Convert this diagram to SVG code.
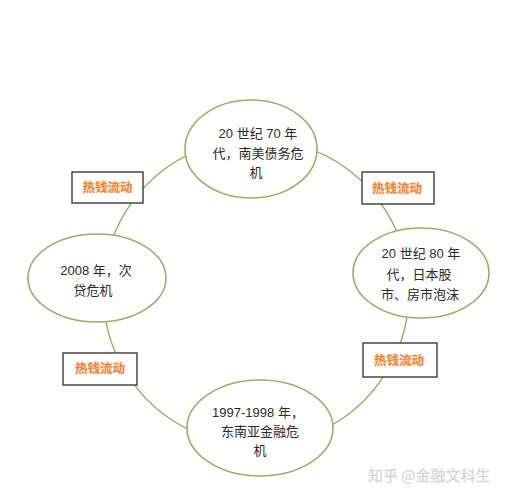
<svg xmlns="http://www.w3.org/2000/svg" width="506" height="500" viewBox="0 0 506 500">
<style>
.conn{fill:none;stroke:#93b262;stroke-width:1.4}
.ell{fill:#fff;stroke:#93b262;stroke-width:1.6}
.box{fill:#fff;stroke:#3a3a3a;stroke-width:1.4}
.t{font-family:"Liberation Sans","Noto Sans CJK SC",sans-serif;font-size:13px;fill:#2a2a2a;text-anchor:middle}
.hot{font-family:"Noto Sans CJK SC",sans-serif;font-size:12.5px;font-weight:bold;fill:#ee7c2f;stroke:#f5a766;stroke-width:0.4;text-anchor:middle}
.wm{font-family:"Noto Sans CJK SC",sans-serif;font-size:15px;fill:#cfcfcf;stroke:#e0e0e0;stroke-width:0.3}
</style>
<rect width="506" height="500" fill="#fff"/>
<g id="connectors">
<path class="conn" d="M203.7 148.2 A153 153 0 0 0 138.8 193.6"/>
<path class="conn" d="M135.4 197.8 A153 153 0 0 0 105.3 265.4"/>
<path class="conn" d="M105.3 318.6 A153 153 0 0 0 130.7 379.8"/>
<path class="conn" d="M130.7 379.8 A153 153 0 0 0 203.7 435.8"/>
<path class="conn" d="M308.3 435.8 A153 153 0 0 0 385.7 373.1"/>
<path class="conn" d="M394.7 356.7 A153 153 0 0 0 408.4 278.7"/>
<path class="conn" d="M406.7 265.4 A153 153 0 0 0 376.6 197.8"/>
<path class="conn" d="M373.2 193.6 A153 153 0 0 0 308.3 148.2"/>
</g>
<g id="node-1970s">
<ellipse class="ell" cx="251" cy="149" rx="66" ry="49"/>
<text class="t" x="258" y="138">20 世纪 70 年</text>
<text class="t" x="258" y="158">代，南美债务危</text>
<text class="t" x="256" y="177">机</text>
</g>
<g id="node-1980s">
<ellipse class="ell" cx="421" cy="273" rx="68" ry="45"/>
<text class="t" x="421" y="258">20 世纪 80 年</text>
<text class="t" x="419" y="279">代，日本股</text>
<text class="t" x="420" y="299">市、房市泡沫</text>
</g>
<g id="node-1997">
<ellipse class="ell" cx="260" cy="428" rx="73" ry="48"/>
<text class="t" x="258" y="417">1997-1998 年，</text>
<text class="t" x="260" y="436">东南亚金融危</text>
<text class="t" x="260" y="455">机</text>
</g>
<g id="node-2008">
<ellipse class="ell" cx="97" cy="278" rx="69" ry="44"/>
<text class="t" x="96" y="275">2008 年，次</text>
<text class="t" x="93" y="295">贷危机</text>
</g>
<g id="box-1">
<rect class="box" x="72" y="172" width="71" height="31"/>
<text class="hot" x="107.5" y="192">热钱流动</text>
</g>
<g id="box-2">
<rect class="box" x="362" y="172" width="72" height="32"/>
<text class="hot" x="397" y="192.5">热钱流动</text>
</g>
<g id="box-3">
<rect class="box" x="63" y="353" width="74" height="32"/>
<text class="hot" x="100" y="373">热钱流动</text>
</g>
<g id="box-4">
<rect class="box" x="363" y="343" width="74" height="34"/>
<text class="hot" x="399" y="364.5">热钱流动</text>
</g>
<text class="wm" x="368" y="481">知乎 @金融文科生</text>
</svg>
